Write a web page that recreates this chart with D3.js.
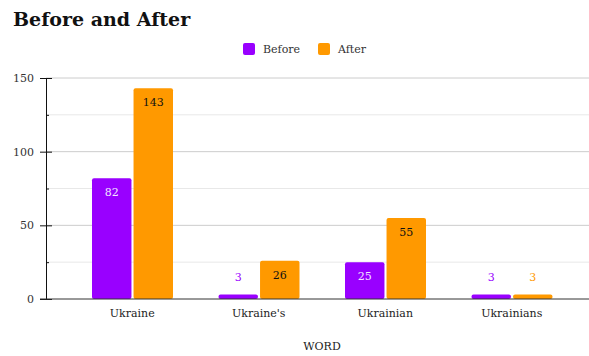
<!DOCTYPE html>
<html>
<head>
<meta charset="utf-8">
<script src="https://cdn.jsdelivr.net/npm/d3@7"></script>
<style>
  body { margin: 0; background: #fff; }
  svg { display: block; font-family: "DejaVu Serif", Georgia, serif; }
</style>
</head>
<body>
<div id="chart"></div>
<script>
// Before and After word counts
const words = ['Ukraine', "Ukraine's", 'Ukrainian', 'Ukrainians'];
const seriesNames = ['Before', 'After'];
const beforeValues = [82, 3, 25, 3];
const afterValues = [143, 26, 55, 3];
const yTicks = [0, 50, 100, 150];
const yMinorTicks = [25, 75, 125];

(function() {
    const width = 589;
    const height = 356;
    const colors = {Before: '#9900ff', After: '#ff9900'};

    const svg = d3.select('#chart')
        .append('svg')
        .attr('width', width)
        .attr('height', height);

    const y = d3.scaleLinear().domain([0, 150]).range([299, 78]);
    const x0 = d3.scaleBand().domain(words).range([69, 575]);
    const x1 = d3.scaleBand().domain(seriesNames).range([23, 104]).paddingInner(0.05);

    // title
    svg.append('text')
        .attr('x', 13)
        .attr('y', 26)
        .attr('font-size', '19px')
        .attr('font-weight', 'bold')
        .attr('fill', '#111')
        .text('Before and After');

    // legend
    const legend = svg.append('g');
    const legendX = [243, 318];
    seriesNames.forEach((s, i) => {
        legend.append('rect')
            .attr('x', legendX[i])
            .attr('y', 43)
            .attr('width', 12)
            .attr('height', 12)
            .attr('rx', 2)
            .attr('fill', colors[s]);
        legend.append('text')
            .attr('x', legendX[i] + 20)
            .attr('y', 53)
            .attr('font-size', '11px')
            .attr('fill', '#333')
            .text(s);
    });

    // grid
    svg.selectAll('.minor')
        .data(yMinorTicks)
        .enter()
        .append('line')
        .attr('x1', 46).attr('x2', width)
        .attr('y1', d => y(d)).attr('y2', d => y(d))
        .attr('stroke', '#e8e8e8');
    svg.selectAll('.major')
        .data(yTicks.slice(1))
        .enter()
        .append('line')
        .attr('x1', 46).attr('x2', width)
        .attr('y1', d => y(d)).attr('y2', d => y(d))
        .attr('stroke', '#cccccc');

    // y axis
    const yAxis = svg.append('g')
        .attr('transform', 'translate(46,0)')
        .call(d3.axisLeft(y).tickValues(yTicks).tickSize(6).tickPadding(6));
    yAxis.select('.domain').attr('stroke', '#111');
    yAxis.selectAll('.tick line').attr('stroke', '#111').attr('x2', 6).attr('x1', -6);
    yAxis.selectAll('.tick text')
        .attr('font-family', '"DejaVu Serif", Georgia, serif')
        .attr('font-size', '11px')
        .attr('fill', '#333');
    svg.append('g')
        .attr('transform', 'translate(46,0)')
        .call(d3.axisLeft(y).tickValues(yMinorTicks).tickSize(3).tickFormat(''))
        .call(g => g.select('.domain').remove())
        .selectAll('.tick line').attr('stroke', '#111').attr('x2', 3);

    // bars
    const rows = words.map((w, i) => ({word: w, Before: beforeValues[i], After: afterValues[i]}));
    const groups = svg.selectAll('.group')
        .data(rows)
        .enter()
        .append('g')
        .attr('transform', d => `translate(${x0(d.word)},0)`);

    const cells = groups.selectAll('.bar')
        .data(d => seriesNames.map(s => ({series: s, value: d[s]})))
        .enter();

    cells.append('rect')
        .attr('x', d => x1(d.series))
        .attr('y', d => y(d.value))
        .attr('width', x1.bandwidth())
        .attr('height', d => y(0) - y(d.value))
        .attr('rx', 2)
        .attr('fill', d => colors[d.series]);

    cells.append('text')
        .attr('x', d => x1(d.series) + x1.bandwidth() / 2)
        .attr('y', d => (y(0) - y(d.value) > 20) ? y(d.value) + 18 : y(d.value) - 14)
        .attr('text-anchor', 'middle')
        .attr('font-size', '11px')
        .attr('fill', d => {
            if (y(0) - y(d.value) <= 20) return colors[d.series];
            return d.series === 'Before' ? '#f3e6ff' : '#111';
        })
        .text(d => d.value);

    // x axis
    svg.append('line')
        .attr('x1', 40).attr('x2', width)
        .attr('y1', y(0)).attr('y2', y(0))
        .attr('stroke', '#333');
    svg.selectAll('.xlabel')
        .data(words)
        .enter()
        .append('text')
        .attr('x', d => x0(d) + x0.bandwidth() / 2)
        .attr('y', 317)
        .attr('text-anchor', 'middle')
        .attr('font-size', '11px')
        .attr('fill', '#222')
        .text(d => d);

    svg.append('text')
        .attr('x', 322)
        .attr('y', 350)
        .attr('text-anchor', 'middle')
        .attr('font-size', '11px')
        .attr('fill', '#222')
        .text('WORD');
})();
</script>
</body>
</html>
